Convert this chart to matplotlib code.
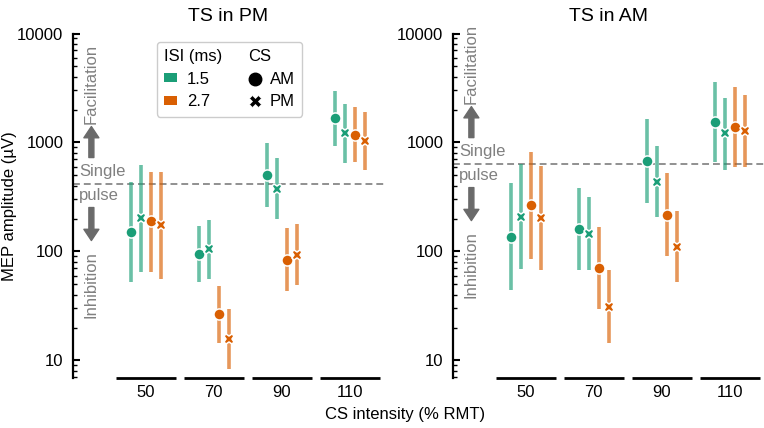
import numpy as np
import matplotlib
matplotlib.use('Agg')
import matplotlib.pyplot as plt
import matplotlib.transforms as mtransforms
from matplotlib.lines import Line2D
from matplotlib.patches import Patch
from matplotlib.offsetbox import HPacker
from matplotlib.ticker import FixedLocator, FixedFormatter, LogLocator, NullFormatter

plt.rcParams['font.family'] = ['Liberation Sans', 'DejaVu Sans']

# ---------------- data ----------------
cs_intensity = [50, 70, 90, 110]
isi_labels = ['1.5', '2.7']
cs_labels = ['AM', 'PM']
panel_titles = ['TS in PM', 'TS in AM']
single_pulse = [420, 640]
y_ticks = [10, 100, 1000, 10000]

# Panel "TS in PM"
pm_isi15_am_mean = [151, 95, 507, 1667]
pm_isi15_am_lo = [52, 52, 258, 935]
pm_isi15_am_hi = [432, 171, 982, 2966]
pm_isi15_pm_mean = [201, 105, 374, 1214]
pm_isi15_pm_lo = [65, 56, 197, 653]
pm_isi15_pm_hi = [622, 194, 716, 2240]
pm_isi27_am_mean = [189, 26.7, 84, 1172]
pm_isi27_am_lo = [65, 14.6, 43, 662]
pm_isi27_am_hi = [540, 48, 163, 2104]
pm_isi27_pm_mean = [175, 15.7, 93.5, 1033]
pm_isi27_pm_lo = [56, 8.4, 49, 560]
pm_isi27_pm_hi = [540, 29.5, 178, 1917]

# Panel "TS in AM"
am_isi15_am_mean = [137, 160, 676, 1552]
am_isi15_am_lo = [44, 67, 277, 662]
am_isi15_am_hi = [423, 380, 1633, 3612]
am_isi15_pm_mean = [208, 145, 437, 1214]
am_isi15_pm_lo = [69, 67, 206, 563]
am_isi15_pm_hi = [635, 314, 923, 2543]
am_isi27_am_mean = [267, 70, 218, 1396]
am_isi27_am_lo = [86, 29.5, 90, 600]
am_isi27_am_hi = [824, 167, 528, 3250]
am_isi27_pm_mean = [201, 31, 110, 1282]
am_isi27_pm_lo = [67, 14.4, 52, 600]
am_isi27_pm_hi = [613, 67, 234, 2729]

panels = [
    [(pm_isi15_am_mean, pm_isi15_am_lo, pm_isi15_am_hi),
     (pm_isi15_pm_mean, pm_isi15_pm_lo, pm_isi15_pm_hi),
     (pm_isi27_am_mean, pm_isi27_am_lo, pm_isi27_am_hi),
     (pm_isi27_pm_mean, pm_isi27_pm_lo, pm_isi27_pm_hi)],
    [(am_isi15_am_mean, am_isi15_am_lo, am_isi15_am_hi),
     (am_isi15_pm_mean, am_isi15_pm_lo, am_isi15_pm_hi),
     (am_isi27_am_mean, am_isi27_am_lo, am_isi27_am_hi),
     (am_isi27_pm_mean, am_isi27_pm_lo, am_isi27_pm_hi)],
]

# ---------------- style ----------------
green = '#1b9e77'
orange = '#d95f02'
cond_colors = [green, green, orange, orange]
cond_markers = ['o', 'X', 'o', 'X']
cond_offsets = [-0.225, -0.075, 0.075, 0.225]
gray_text = '#808080'
gray_arrow = '#6a6a6a'

W, H = 764, 428
fig = plt.figure(figsize=(W / 100, H / 100), dpi=100)
ax_bottom_px, ax_top_px = 378, 33.5
axes = []
for left_px in (73, 453):
    ax = fig.add_axes([left_px / W, 1 - ax_bottom_px / H, 311 / W,
                       (ax_bottom_px - ax_top_px) / H])
    axes.append(ax)

x = np.arange(len(cs_intensity))

for ax, data, title, sp in zip(axes, panels, panel_titles, single_pulse):
    ax.set_yscale('log')
    ax.set_ylim(6.9, 10000)
    ax.set_xlim(-1.07, 3.5)

    for (mean, lo, hi), col, mk, off in zip(data, cond_colors, cond_markers, cond_offsets):
        xs = x + off
        ax.vlines(xs, lo, hi, color=col, alpha=0.65, lw=2.6, zorder=2)
        ms = 8.0 if mk == 'o' else 7.4
        ax.plot(xs, mean, ls='none', marker=mk, ms=ms, mfc=col, mec='white',
                mew=1.1, zorder=3)

    ax.axhline(sp, color='#888888', ls=(0, (3.8, 2.2)), lw=1.3, zorder=1)

    # annotations around single-pulse line
    def offtr(dx, dy, ax=ax):
        return mtransforms.offset_copy(ax.transData, fig=fig, x=dx, y=dy, units='dots')
    xa = -0.8
    aprops = dict(arrowstyle='simple,head_length=0.45,head_width=0.6,tail_width=0.2',
                  color=gray_arrow, shrinkA=0, shrinkB=0, mutation_scale=18)
    ax.annotate('', xy=(xa, sp), xycoords=offtr(0, 57), xytext=(xa, sp),
                textcoords=offtr(0, 26), arrowprops=aprops, annotation_clip=False)
    ax.annotate('', xy=(xa, sp), xycoords=offtr(0, -57), xytext=(xa, sp),
                textcoords=offtr(0, -24), arrowprops=aprops, annotation_clip=False)
    ax.text(xa, sp, 'Facilitation', transform=offtr(0, 100), rotation=90,
            ha='center', va='center', fontsize=12, color=gray_text)
    ax.text(xa, sp, 'Inhibition', transform=offtr(0, -101), rotation=90,
            ha='center', va='center', fontsize=12, color=gray_text)
    ax.text(-0.98, sp, 'Single', transform=offtr(0, 12), ha='left',
            va='center', fontsize=12, color=gray_text)
    ax.text(-0.98, sp, 'pulse', transform=offtr(0, -12), ha='left',
            va='center', fontsize=12, color=gray_text)

    # spines / ticks
    for s in ('top', 'right', 'bottom'):
        ax.spines[s].set_visible(False)
    ax.spines['left'].set_linewidth(1.6)
    ax.yaxis.set_major_locator(FixedLocator(y_ticks))
    ax.yaxis.set_major_formatter(FixedFormatter([str(v) for v in y_ticks]))
    ax.yaxis.set_minor_locator(LogLocator(base=10, subs=np.arange(2, 10)))
    ax.yaxis.set_minor_formatter(NullFormatter())
    ax.tick_params(axis='y', which='major', direction='in', length=5, width=1.5,
                   labelsize=12, pad=7)
    ax.tick_params(axis='y', which='minor', direction='in', length=3, width=1.0)
    ax.set_xticks(x)
    ax.set_xticklabels([str(c) for c in cs_intensity])
    ax.tick_params(axis='x', length=0, labelsize=12, pad=5)

    # category underline segments
    trans = mtransforms.blended_transform_factory(ax.transData, ax.transAxes)
    for xi in x:
        ax.plot([xi - 0.44, xi + 0.44], [0, 0], transform=trans, color='black',
                lw=2, clip_on=False, solid_capstyle='butt')

    ax.set_title(title, fontsize=14, pad=9)

# legend
lh = [Line2D([], [], ls='none', label='ISI (ms)'),
      Patch(facecolor=green, edgecolor='none', label=isi_labels[0]),
      Patch(facecolor=orange, edgecolor='none', label=isi_labels[1]),
      Line2D([], [], ls='none', label='CS'),
      Line2D([], [], ls='none', marker='o', color='black', ms=9, label=cs_labels[0]),
      Line2D([], [], ls='none', marker='X', color='black', ms=8, mec='white',
             mew=0.5, label=cs_labels[1])]
leg = axes[0].legend(handles=lh, ncol=2, loc='upper left',
                     bbox_to_anchor=(0.269, 0.976), borderaxespad=0,
                     fontsize=12, handlelength=0.8, handleheight=0.45,
                     handletextpad=0.55, columnspacing=1.55, labelspacing=0.45,
                     borderpad=0.45, framealpha=1, edgecolor='#cccccc')
for hp in leg.findobj(HPacker):
    ch = hp.get_children()
    if len(ch) == 2:
        da, ta = ch
        arts = da.get_children()
        if not arts or not isinstance(arts[0], Line2D):
            continue
        mk = arts[0].get_marker()
        if mk in (None, 'None', ''):
            da.set_width(0)
            hp.sep = 0
        else:
            hp.sep = 6

fig.text(10 / W, 1 - 206 / H, 'MEP amplitude (µV)', rotation=90, ha='center',
         va='center', fontsize=12)
fig.text(405.5 / W, 1 - 414 / H, 'CS intensity (% RMT)', ha='center',
         va='center', fontsize=12)

fig.savefig('out.png', dpi=100)
